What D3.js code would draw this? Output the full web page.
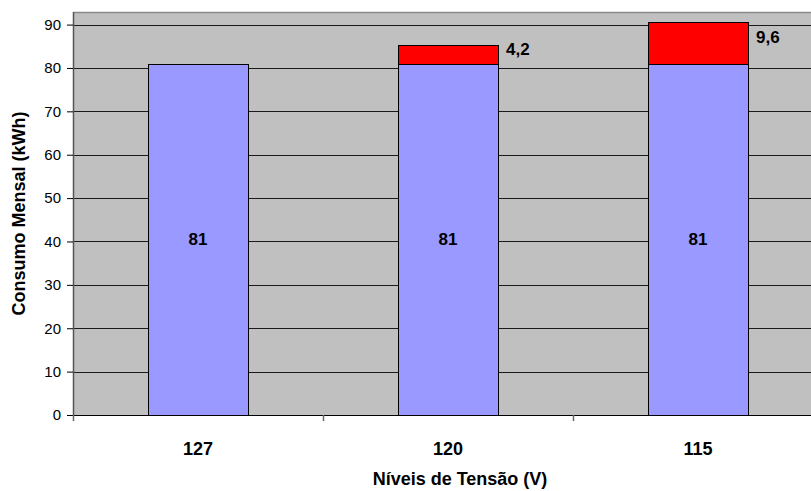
<!DOCTYPE html>
<html>
<head>
<meta charset="utf-8">
<script src="https://cdn.jsdelivr.net/npm/d3@7"></script>
<style>
  html, body { margin: 0; padding: 0; background: #fff; }
  svg { display: block; }
  svg text { font-family: "Liberation Sans", Arial, sans-serif; }
</style>
</head>
<body>
<svg id="chart" width="811" height="491"></svg>
<script>
// Monthly consumption by supply voltage level
const categories = ["127", "120", "115"];
const baseValues = [81, 81, 81];
const extraValues = [0, 4.2, 9.6];
const baseLabels = ["81", "81", "81"];
const extraLabels = ["", "4,2", "9,6"];
const yTicks = [0, 10, 20, 30, 40, 50, 60, 70, 80, 90];
const yTitle = "Consumo Mensal (kWh)";
const xTitle = "Níveis de Tensão (V)";

const plot = { left: 73, top: 12, bottom: 415, right: 823 };

const svg = d3.select("#chart");

const x = d3.scaleBand()
  .domain(categories)
  .range([plot.left, plot.right])
  .paddingInner(0.6)
  .paddingOuter(0.3);

const y = d3.scaleLinear()
  .domain([0, 92.9])
  .range([plot.bottom, plot.top]);

// Plot background
svg.append("rect")
  .attr("x", plot.left).attr("y", plot.top)
  .attr("width", plot.right - plot.left)
  .attr("height", plot.bottom - plot.top)
  .attr("fill", "#c0c0c0");

// Top border of the plot area
svg.append("line")
  .attr("x1", plot.left).attr("x2", plot.right)
  .attr("y1", plot.top + 0.5).attr("y2", plot.top + 0.5)
  .attr("stroke", "#8a8a8a").attr("stroke-width", 1.5);

// Horizontal gridlines
svg.append("g")
  .selectAll("line")
  .data(yTicks.filter(d => d > 0))
  .join("line")
  .attr("x1", plot.left).attr("x2", plot.right)
  .attr("y1", d => Math.round(y(d)) + 0.5)
  .attr("y2", d => Math.round(y(d)) + 0.5)
  .attr("stroke", "#1a1a1a").attr("stroke-width", 1);

// Y axis
const yAxis = svg.append("g")
  .attr("transform", `translate(${plot.left},0)`)
  .call(d3.axisLeft(y).tickValues(yTicks).tickSize(6).tickPadding(6).tickFormat(d3.format("d")));
yAxis.attr("font-family", null);
yAxis.select(".domain").attr("stroke", "#555").attr("stroke-width", 1.5).attr("d", `M0.5,${plot.top}V${plot.bottom}`);
yAxis.selectAll(".tick line").attr("stroke", "#000");
yAxis.selectAll(".tick text")
  .attr("fill", "#000")
  .style("font-size", "15px");

// X axis baseline and category separators
const xg = svg.append("g");
xg.append("line")
  .attr("x1", plot.left).attr("x2", plot.right)
  .attr("y1", plot.bottom + 0.5).attr("y2", plot.bottom + 0.5)
  .attr("stroke", "#000").attr("stroke-width", 1);
const step = x.step();
const separators = [plot.left].concat(categories.map(d => x(d) - x.paddingOuter() * step + step));
xg.selectAll("line.sep")
  .data(separators)
  .join("line")
  .attr("class", "sep")
  .attr("x1", d => Math.round(d) + 0.5)
  .attr("x2", d => Math.round(d) + 0.5)
  .attr("y1", plot.bottom).attr("y2", plot.bottom + 6)
  .attr("stroke", "#666").attr("stroke-width", 1.5);

// Category labels
svg.append("g")
  .selectAll("text")
  .data(categories)
  .join("text")
  .attr("x", d => x(d) + x.bandwidth() / 2)
  .attr("y", 455)
  .attr("text-anchor", "middle")
  .attr("font-weight", "bold")
  .attr("font-size", 18)
  .text(d => d);

// Base bars
const bars = svg.append("g");
bars.selectAll("rect.base")
  .data(categories)
  .join("rect")
  .attr("class", "base")
  .attr("x", d => Math.round(x(d)) + 0.5)
  .attr("width", x.bandwidth())
  .attr("y", (d, i) => Math.round(y(baseValues[i])) + 0.5)
  .attr("height", (d, i) => Math.round(y(0)) - Math.round(y(baseValues[i])))
  .attr("fill", "#9999ff")
  .attr("stroke", "#000").attr("stroke-width", 1);

// Stacked increments
const stacked = categories.map((d, i) => ({ cat: d, base: baseValues[i], extra: extraValues[i], label: extraLabels[i] }))
  .filter(d => d.extra > 0);

bars.selectAll("rect.extra")
  .data(stacked)
  .join("rect")
  .attr("class", "extra")
  .attr("x", d => Math.round(x(d.cat)) + 0.5)
  .attr("width", x.bandwidth())
  .attr("y", d => Math.round(y(d.base + d.extra)) + 0.5)
  .attr("height", d => Math.round(y(d.base)) - Math.round(y(d.base + d.extra)))
  .attr("fill", "#ff0000")
  .attr("stroke", "#000").attr("stroke-width", 1);

// Value labels inside base bars
svg.append("g")
  .selectAll("text")
  .data(categories)
  .join("text")
  .attr("x", d => x(d) + x.bandwidth() / 2)
  .attr("y", (d, i) => y(baseValues[i] / 2) + 6)
  .attr("text-anchor", "middle")
  .attr("font-weight", "bold")
  .attr("font-size", 17)
  .text((d, i) => baseLabels[i]);

// Increment labels beside stacked segments
svg.append("g")
  .selectAll("text")
  .data(stacked)
  .join("text")
  .attr("x", d => x(d.cat) + x.bandwidth() + 8)
  .attr("y", d => y(d.base + d.extra / 2))
  .attr("font-weight", "bold")
  .attr("font-size", 17)
  .text(d => d.label);

// Axis titles
svg.append("text")
  .attr("transform", `translate(25,${(plot.top + plot.bottom) / 2}) rotate(-90)`)
  .attr("text-anchor", "middle")
  .attr("font-weight", "bold")
  .attr("font-size", 18)
  .text(yTitle);

svg.append("text")
  .attr("x", 460)
  .attr("y", 485)
  .attr("text-anchor", "middle")
  .attr("font-weight", "bold")
  .attr("font-size", 18)
  .text(xTitle);
</script>
</body>
</html>
